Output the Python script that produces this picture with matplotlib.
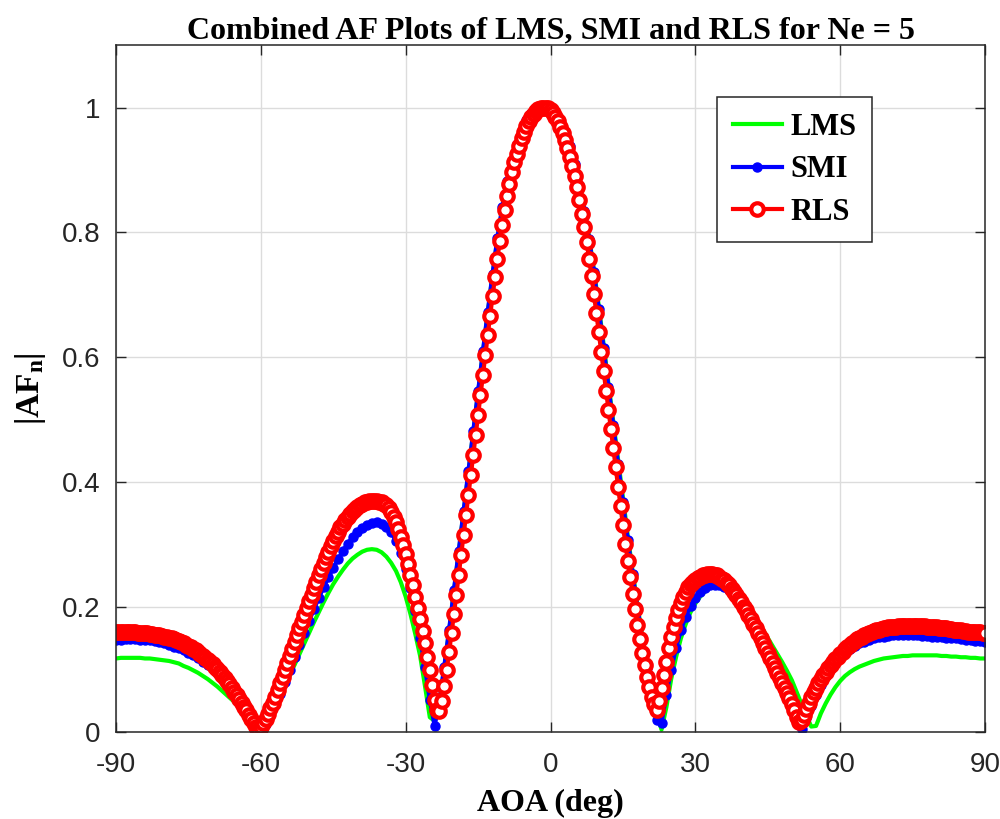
import numpy as np
import matplotlib
matplotlib.use('Agg')
import matplotlib.pyplot as plt

plt.rcParams['mathtext.fontset'] = 'custom'
plt.rcParams['mathtext.bf'] = 'Liberation Serif:bold'
plt.rcParams['mathtext.rm'] = 'Liberation Serif'

# angle of arrival grids (deg)
aoa_rls = np.linspace(-90, 90, 361)
aoa = np.linspace(-90, 90, 181)

# |AF| for RLS, 0.5 deg steps, one row per 5 deg
rls = [
    0.160, 0.160, 0.161, 0.161, 0.161, 0.161, 0.161, 0.160, 0.160, 0.159,
    0.159, 0.159, 0.158, 0.158, 0.157, 0.157, 0.156, 0.155, 0.155, 0.154,
    0.153, 0.152, 0.151, 0.150, 0.149, 0.147, 0.146, 0.144, 0.142, 0.140,
    0.138, 0.136, 0.133, 0.131, 0.128, 0.125, 0.122, 0.119, 0.116, 0.112,
    0.109, 0.105, 0.101, 0.097, 0.092, 0.087, 0.082, 0.077, 0.071, 0.065,
    0.059, 0.053, 0.047, 0.041, 0.035, 0.028, 0.021, 0.014, 0.008, 0.004,
    0.008, 0.014, 0.021, 0.029, 0.038, 0.047, 0.057, 0.067, 0.078, 0.089,
    0.100, 0.111, 0.122, 0.133, 0.144, 0.155, 0.166, 0.177, 0.188, 0.199,
    0.210, 0.220, 0.231, 0.241, 0.251, 0.261, 0.271, 0.280, 0.289, 0.298,
    0.306, 0.314, 0.321, 0.328, 0.334, 0.340, 0.345, 0.350, 0.354, 0.358,
    0.361, 0.364, 0.366, 0.368, 0.369, 0.370, 0.370, 0.370, 0.370, 0.369,
    0.368, 0.366, 0.363, 0.359, 0.353, 0.345, 0.336, 0.325, 0.313, 0.300,
    0.285, 0.269, 0.252, 0.235, 0.217, 0.199, 0.181, 0.162, 0.142, 0.121,
    0.099, 0.075, 0.052, 0.036, 0.034, 0.050, 0.074, 0.100, 0.128, 0.158,
    0.189, 0.220, 0.252, 0.284, 0.316, 0.348, 0.380, 0.412, 0.444, 0.476,
    0.508, 0.540, 0.572, 0.604, 0.636, 0.667, 0.698, 0.728, 0.758, 0.786,
    0.812, 0.836, 0.858, 0.878, 0.896, 0.912, 0.926, 0.939, 0.951, 0.961,
    0.970, 0.978, 0.985, 0.990, 0.994, 0.997, 0.999, 1.000, 1.000, 0.999,
    0.996, 0.991, 0.985, 0.978, 0.969, 0.959, 0.948, 0.935, 0.921, 0.906,
    0.890, 0.872, 0.852, 0.830, 0.808, 0.784, 0.758, 0.730, 0.701, 0.671,
    0.640, 0.609, 0.578, 0.546, 0.515, 0.485, 0.455, 0.424, 0.393, 0.362,
    0.331, 0.302, 0.274, 0.248, 0.222, 0.197, 0.172, 0.149, 0.127, 0.107,
    0.089, 0.072, 0.057, 0.045, 0.036, 0.050, 0.070, 0.091, 0.113, 0.134,
    0.152, 0.169, 0.183, 0.196, 0.207, 0.216, 0.225, 0.232, 0.237, 0.241,
    0.244, 0.247, 0.249, 0.251, 0.252, 0.253, 0.253, 0.253, 0.252, 0.251,
    0.249, 0.246, 0.243, 0.239, 0.235, 0.230, 0.225, 0.220, 0.214, 0.208,
    0.201, 0.195, 0.188, 0.181, 0.173, 0.166, 0.158, 0.151, 0.143, 0.135,
    0.127, 0.119, 0.111, 0.103, 0.095, 0.087, 0.079, 0.071, 0.063, 0.054,
    0.045, 0.035, 0.025, 0.017, 0.020, 0.028, 0.037, 0.047, 0.056, 0.064,
    0.071, 0.078, 0.085, 0.091, 0.097, 0.102, 0.107, 0.112, 0.117, 0.121,
    0.125, 0.129, 0.133, 0.137, 0.140, 0.143, 0.146, 0.149, 0.151, 0.153,
    0.155, 0.157, 0.159, 0.160, 0.162, 0.163, 0.164, 0.165, 0.166, 0.167,
    0.168, 0.168, 0.169, 0.169, 0.170, 0.170, 0.170, 0.170, 0.170, 0.170,
    0.170, 0.170, 0.170, 0.170, 0.170, 0.170, 0.169, 0.169, 0.169, 0.168,
    0.168, 0.167, 0.167, 0.166, 0.166, 0.165, 0.165, 0.164, 0.164, 0.163,
    0.163, 0.162, 0.162, 0.161, 0.161, 0.161, 0.160, 0.160, 0.160, 0.159,
    0.159,
]

# |AF| for SMI, 1 deg steps, one row per 10 deg
smi = [
    0.148, 0.148, 0.149, 0.149, 0.149, 0.148, 0.148, 0.147, 0.146, 0.145,
    0.142, 0.140, 0.137, 0.134, 0.131, 0.127, 0.123, 0.118, 0.113, 0.108,
    0.102, 0.096, 0.089, 0.081, 0.072, 0.063, 0.053, 0.041, 0.028, 0.014,
    0.004, 0.013, 0.027, 0.043, 0.061, 0.080, 0.100, 0.120, 0.140, 0.159,
    0.178, 0.197, 0.215, 0.232, 0.248, 0.263, 0.277, 0.290, 0.302, 0.312,
    0.320, 0.327, 0.332, 0.335, 0.336, 0.334, 0.329, 0.320, 0.306, 0.287,
    0.262, 0.231, 0.194, 0.151, 0.104, 0.052, 0.010, 0.050, 0.105, 0.164,
    0.227, 0.290, 0.354, 0.418, 0.482, 0.546, 0.610, 0.673, 0.734, 0.791,
    0.840, 0.882, 0.915, 0.941, 0.963, 0.980, 0.991, 0.997, 1.000, 1.000,
    0.999, 0.992, 0.979, 0.961, 0.938, 0.909, 0.876, 0.834, 0.789, 0.736,
    0.677, 0.615, 0.552, 0.491, 0.430, 0.368, 0.308, 0.253, 0.200, 0.150,
    0.102, 0.058, 0.020, 0.015, 0.060, 0.100, 0.135, 0.163, 0.185, 0.202,
    0.215, 0.225, 0.231, 0.235, 0.236, 0.235, 0.232, 0.227, 0.220, 0.212,
    0.202, 0.190, 0.177, 0.163, 0.148, 0.132, 0.115, 0.097, 0.079, 0.060,
    0.041, 0.022, 0.005, 0.022, 0.042, 0.060, 0.076, 0.090, 0.102, 0.112,
    0.120, 0.127, 0.133, 0.138, 0.142, 0.145, 0.148, 0.150, 0.152, 0.153,
    0.154, 0.155, 0.155, 0.155, 0.155, 0.155, 0.155, 0.154, 0.154, 0.153,
    0.153, 0.152, 0.151, 0.150, 0.150, 0.149, 0.148, 0.147, 0.146, 0.146,
    0.145,
]

# |AF| for LMS, 1 deg steps, one row per 10 deg
lms = [
    0.118, 0.119, 0.119, 0.119, 0.119, 0.119, 0.118, 0.118, 0.117, 0.116,
    0.115, 0.114, 0.112, 0.110, 0.106, 0.103, 0.099, 0.095, 0.090, 0.085,
    0.079, 0.073, 0.066, 0.059, 0.052, 0.045, 0.037, 0.029, 0.020, 0.011,
    0.002, 0.013, 0.027, 0.042, 0.058, 0.074, 0.091, 0.108, 0.125, 0.142,
    0.159, 0.176, 0.192, 0.208, 0.223, 0.237, 0.249, 0.260, 0.270, 0.278,
    0.284, 0.289, 0.292, 0.293, 0.292, 0.288, 0.281, 0.271, 0.258, 0.240,
    0.217, 0.189, 0.157, 0.122, 0.074, 0.024, 0.018, 0.048, 0.103, 0.162,
    0.225, 0.288, 0.352, 0.416, 0.480, 0.544, 0.608, 0.671, 0.732, 0.789,
    0.838, 0.880, 0.914, 0.940, 0.962, 0.979, 0.990, 0.997, 1.000, 1.000,
    0.999, 0.993, 0.981, 0.963, 0.940, 0.911, 0.878, 0.837, 0.792, 0.740,
    0.682, 0.621, 0.558, 0.497, 0.436, 0.375, 0.315, 0.258, 0.204, 0.153,
    0.106, 0.064, 0.030, 0.004, 0.040, 0.085, 0.120, 0.150, 0.173, 0.192,
    0.206, 0.217, 0.225, 0.231, 0.234, 0.236, 0.236, 0.234, 0.229, 0.221,
    0.211, 0.200, 0.188, 0.176, 0.164, 0.151, 0.138, 0.125, 0.112, 0.098,
    0.083, 0.064, 0.045, 0.027, 0.009, 0.010, 0.030, 0.046, 0.060, 0.072,
    0.082, 0.090, 0.096, 0.101, 0.105, 0.108, 0.111, 0.114, 0.116, 0.118,
    0.119, 0.120, 0.121, 0.122, 0.122, 0.123, 0.123, 0.123, 0.123, 0.123,
    0.123, 0.122, 0.122, 0.121, 0.121, 0.120, 0.120, 0.119, 0.119, 0.118,
    0.118,
]

xticks = [-90, -60, -30, 0, 30, 60, 90]
yticks = [0, 0.2, 0.4, 0.6, 0.8, 1]
ytick_labels = ['0', '0.2', '0.4', '0.6', '0.8', '1']

serif = 'Liberation Serif'
sans = 'Liberation Sans'
dark = '#262626'

fig, ax = plt.subplots(figsize=(10, 8.19), dpi=100)
fig.subplots_adjust(left=0.116, right=0.985, bottom=0.106, top=0.945)

ax.plot(aoa, lms, color=(0, 1, 0), lw=3, label='LMS')
ax.plot(aoa, smi, '.-', color=(0, 0, 1), lw=3, ms=13, label='SMI')
ax.plot(aoa_rls, rls, 'o-', color=(1, 0, 0), lw=3, ms=9,
        mfc='white', mew=3, label='RLS')

ax.set_xlim(-90, 90)
ax.set_ylim(0, 1.1)
ax.set_xticks(xticks)
ax.set_xticklabels([str(t) for t in xticks])
ax.set_yticks(yticks)
ax.set_yticklabels(ytick_labels)

ax.grid(True, color='#dcdcdc', lw=1)
ax.set_axisbelow(True)
for s in ax.spines.values():
    s.set_color(dark)
    s.set_linewidth(1.1)
ax.tick_params(direction='in', top=True, right=True, length=7, width=1,
               color=dark, labelcolor=dark, labelsize=20)
ax.tick_params(axis='x', pad=14)
ax.tick_params(axis='y', pad=11)
for lbl in ax.get_xticklabels() + ax.get_yticklabels():
    lbl.set_family(sans)

ax.set_title('Combined AF Plots of LMS, SMI and RLS for Ne = 5',
             fontfamily=serif, fontweight='bold', fontsize=23, pad=5)
ax.set_xlabel('AOA (deg)', fontfamily=serif, fontweight='bold',
              fontsize=23, labelpad=8)
ax.set_ylabel(r'$\mathbf{|AF_n|}$', fontsize=24, labelpad=10)

leg = ax.legend(loc='upper right', bbox_to_anchor=(0.870, 0.924),
                borderaxespad=0,
                prop={'family': serif, 'weight': 'bold', 'size': 22},
                handlelength=1.6, handletextpad=0.3, labelspacing=0.45,
                borderpad=0.5, fancybox=False, framealpha=1)
leg.get_frame().set_edgecolor(dark)
leg.get_frame().set_linewidth(1.1)

fig.savefig('out.png', dpi=100)
